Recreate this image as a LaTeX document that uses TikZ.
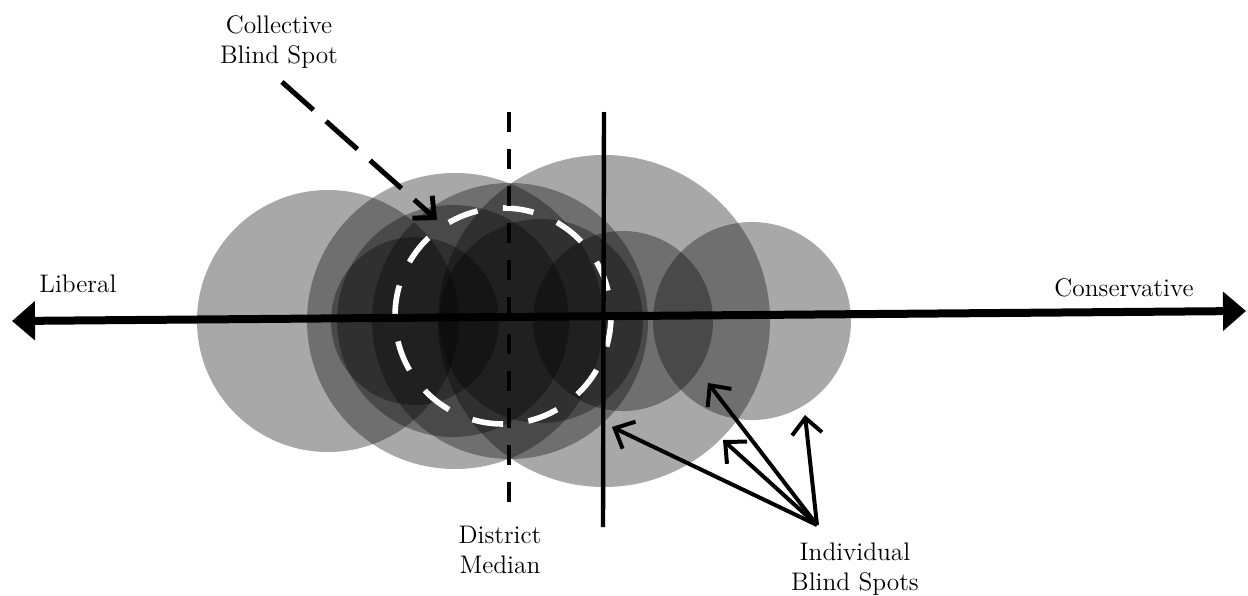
\documentclass[tikz,border=0pt]{standalone}
\usepackage{amsmath}
\usepackage{tikz}
\usetikzlibrary{arrows.meta}
\tikzset{>={Straight Barb[length=8pt,width=15pt]}}
\tikzset{blob/.style={fill=black,fill opacity=0.34}}
\tikzset{lbl/.style={font=\fontsize{12.7}{15}\selectfont,align=center,inner sep=0pt}}

\begin{document}
\begin{tikzpicture}[x=0.5pt,y=-0.5pt]
    \useasboundingbox (0,0) rectangle (1248,595);

    % spots of the single members
    \fill [blob] (328,321) circle [radius=131];
    \fill [blob] (455,321) circle [radius=148];
    \fill [blob] (604,321) circle [radius=166];
    \fill [blob] (752,321) circle [radius=99];
    \fill [blob] (623,321) circle [radius=90];
    \fill [blob] (415,321) circle [radius=84];
    \fill [blob] (510,321) circle [radius=138];
    \fill [blob] (541,321) circle [radius=102];
    \fill [blob] (453,321) circle [radius=116];

    \coordinate (c0) at (503,316);

    \draw [white, line width=2.8pt, dash pattern=on 15.5pt off 12.77pt]
    (c0) ++(108,0) arc [start angle=0, delta angle=360, radius=108];

    % the scale
    \coordinate (lib) at (12,321);
    \coordinate (con) at (1246,311);

    \draw [line width=4pt,
    {Triangle[length=11.5pt,width=19pt]}-{Triangle[length=11.5pt,width=19pt]}]
    (lib) -- (con);

    \coordinate (m0) at (509,112);
    \coordinate (m1) at (509,512);
    \draw [line width=2.2pt, dash pattern=on 10pt off 8.5pt] (m0) -- (m1);

    \coordinate (s0) at (604,112);
    \coordinate (s1) at (603,527);
    \draw [line width=2.2pt] (s0) -- (s1);

    \node [lbl, anchor=base] (liberal) at (78,292) {Liberal};
    \node [lbl, anchor=base] (conserv) at (1124,296) {Conservative};

    \node [lbl, anchor=north] (collect) at (279,15) {Collective\\Blind Spot};
    \node [lbl, anchor=north] (median) at (500,526) {District\\Median};
    \node [lbl, anchor=north] (indiv) at (855,542) {Individual\\Blind Spots};

    \coordinate (a0) at (282,82);
    \coordinate (a1) at (437,220);
    \draw [->, line width=2.5pt, dash pattern=on 21pt off 8.5pt] (a0) -- (a1);

    \coordinate (hub) at (817,525);
    \coordinate (t1) at (612,427);
    \coordinate (t2) at (708,383);
    \coordinate (t3) at (723,440);
    \coordinate (t4) at (805,415);

    \draw [->, line width=2pt] (hub) -- (t1);
    \draw [->, line width=2pt] (hub) -- (t2);
    \draw [->, line width=2pt] (hub) -- (t3);
    \draw [->, line width=2pt] (hub) -- (t4);
  \end{tikzpicture}
\end{document}
